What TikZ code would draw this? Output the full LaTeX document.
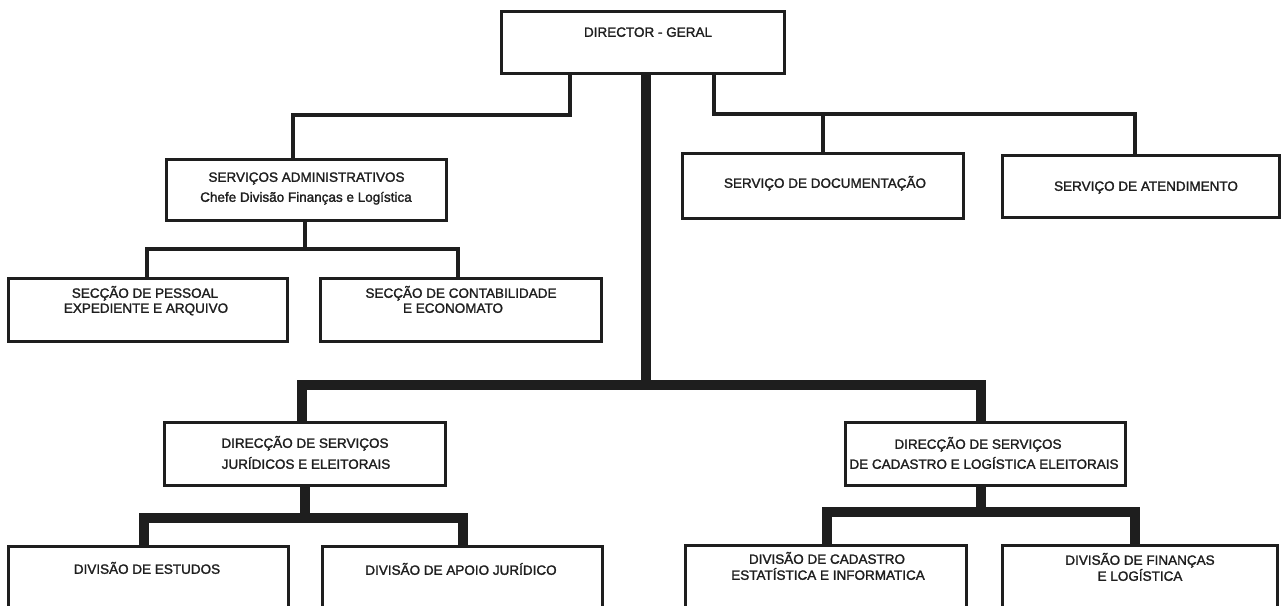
\documentclass[tikz,border=0pt]{standalone}
\usepackage{fontspec}
\setmainfont{Liberation Sans}
\newfontfamily\lblfont{Liberation Sans}[FakeBold=1.6]
\definecolor{ink}{HTML}{1E1E1E}
\begin{document}
\begin{tikzpicture}[x=1pt,y=-1pt,
  box/.style={draw=ink, line width=1.8pt, fill=white, inner sep=0pt},
  lbl/.style={anchor=base, inner sep=0pt, font=\lblfont\fontsize{13.5}{16}\selectfont, text=ink},
  thinlink/.style={draw=ink, line width=4pt, line join=miter},
  thicklink/.style={draw=ink, line width=9.5pt, line join=miter}]
\useasboundingbox (0,0) rectangle (1282,605);
\clip (0,0) rectangle (1282,605);
\fill[white] (0,0) rectangle (1282,605);

% boxes (positions)
\path node[box, minimum width=282pt, minimum height=61pt] (dg)  at (643,42.5) {};
\path node[box, minimum width=279pt, minimum height=60pt] (sa)  at (306.5,190) {};
\path node[box, minimum width=280pt, minimum height=64pt] (sd)  at (823,186) {};
\path node[box, minimum width=276pt, minimum height=61pt] (sat) at (1141,186.5) {};
\path node[box, minimum width=278pt, minimum height=62pt] (sp)  at (148,310) {};
\path node[box, minimum width=280pt, minimum height=62pt] (sc)  at (461,310) {};
\path node[box, minimum width=280pt, minimum height=62pt] (dsj) at (305,454) {};
\path node[box, minimum width=279pt, minimum height=62pt] (dsc) at (985.5,454) {};
\path node[box, minimum width=279pt, minimum height=80pt] (de)  at (148.5,587) {};
\path node[box, minimum width=279pt, minimum height=80pt] (daj) at (462.5,587) {};
\path node[box, minimum width=280pt, minimum height=80pt] (dci) at (826,586) {};
\path node[box, minimum width=274pt, minimum height=80pt] (dfl) at (1140,586) {};

% junctions
\coordinate (jl)   at (570,115);
\coordinate (jr)   at (714,114);
\coordinate (jsa)  at (305,249);
\coordinate (jm)   at (646,385);
\coordinate (jdsj) at (305,518);
\coordinate (jdsc) at (981,512);

% thin connectors
\draw[thinlink] (jl |- dg.south) -- (jl) -| ([xshift=-13.5pt]sa.north);
\draw[thinlink] (jr |- dg.south) -- (jr) -| ([xshift=-6pt]sat.north);
\draw[thinlink] (jr -| sd.north) -- (sd.north);
\draw[thinlink] (jsa |- sa.south) -- (jsa);
\draw[thinlink] ([xshift=-1pt]sp.north) |- (jsa) -| ([xshift=-3pt]sc.north);

% thick connectors
\draw[thicklink] (jm |- dg.south) -- (jm);
\draw[thicklink] ([xshift=-3pt]dsj.north) |- (jm) -| ([xshift=-4.5pt]dsc.north);
\draw[thicklink] (jdsj |- dsj.south) -- (jdsj);
\draw[thicklink] ([xshift=-4.5pt]de.north) |- (jdsj) -| ([xshift=0.5pt]daj.north);
\draw[thicklink] (jdsc |- dsc.south) -- (jdsc);
\draw[thicklink] ([xshift=1pt]dci.north) |- (jdsc) -| ([xshift=-5pt]dfl.north);

% redraw box borders over connector ends
\foreach \b in {dg,sa,sd,sat,sp,sc,dsj,dsc,de,daj,dci,dfl}
  \draw[ink, line width=1.8pt] (\b.north west) rectangle (\b.south east);

% texts
\node[lbl] (dg-t)   at (648,36.8)  {DIRECTOR - GERAL};
\node[lbl] (sa-t1)  at (306.5,181.8) {SERVIÇOS ADMINISTRATIVOS};
\node[lbl] (sa-t2)  at (306,201.8) {Chefe Divisão Finanças e Logística};
\node[lbl] (sd-t)   at (825,187.8) {SERVIÇO DE DOCUMENTAÇÃO};
\node[lbl] (sat-t)  at (1146,190.8) {SERVIÇO DE ATENDIMENTO};
\node[lbl] (sp-t1)  at (145,297.8) {SECÇÃO DE PESSOAL};
\node[lbl] (sp-t2)  at (146,312.8) {EXPEDIENTE E ARQUIVO};
\node[lbl] (sc-t1)  at (461,297.8) {SECÇÃO DE CONTABILIDADE};
\node[lbl] (sc-t2)  at (453,312.8) {E ECONOMATO};
\node[lbl] (dsj-t1) at (305,447.8) {DIRECÇÃO DE SERVIÇOS};
\node[lbl] (dsj-t2) at (306,468.8) {JURÍDICOS E ELEITORAIS};
\node[lbl] (dsc-t1) at (978,448.8) {DIRECÇÃO DE SERVIÇOS};
\node[lbl] (dsc-t2) at (984,468.8) {DE CADASTRO E LOGÍSTICA ELEITORAIS};
\node[lbl] (de-t)   at (147,573.8) {DIVISÃO DE ESTUDOS};
\node[lbl] (daj-t)  at (461,574.8) {DIVISÃO DE APOIO JURÍDICO};
\node[lbl] (dci-t1) at (827,563.8) {DIVISÃO DE CADASTRO};
\node[lbl] (dci-t2) at (828,579.8) {ESTATÍSTICA E INFORMATICA};
\node[lbl] (dfl-t1) at (1140,564.8) {DIVISÃO DE FINANÇAS};
\node[lbl] (dfl-t2) at (1140,580.8) {E LOGÍSTICA};
\end{tikzpicture}
\end{document}
